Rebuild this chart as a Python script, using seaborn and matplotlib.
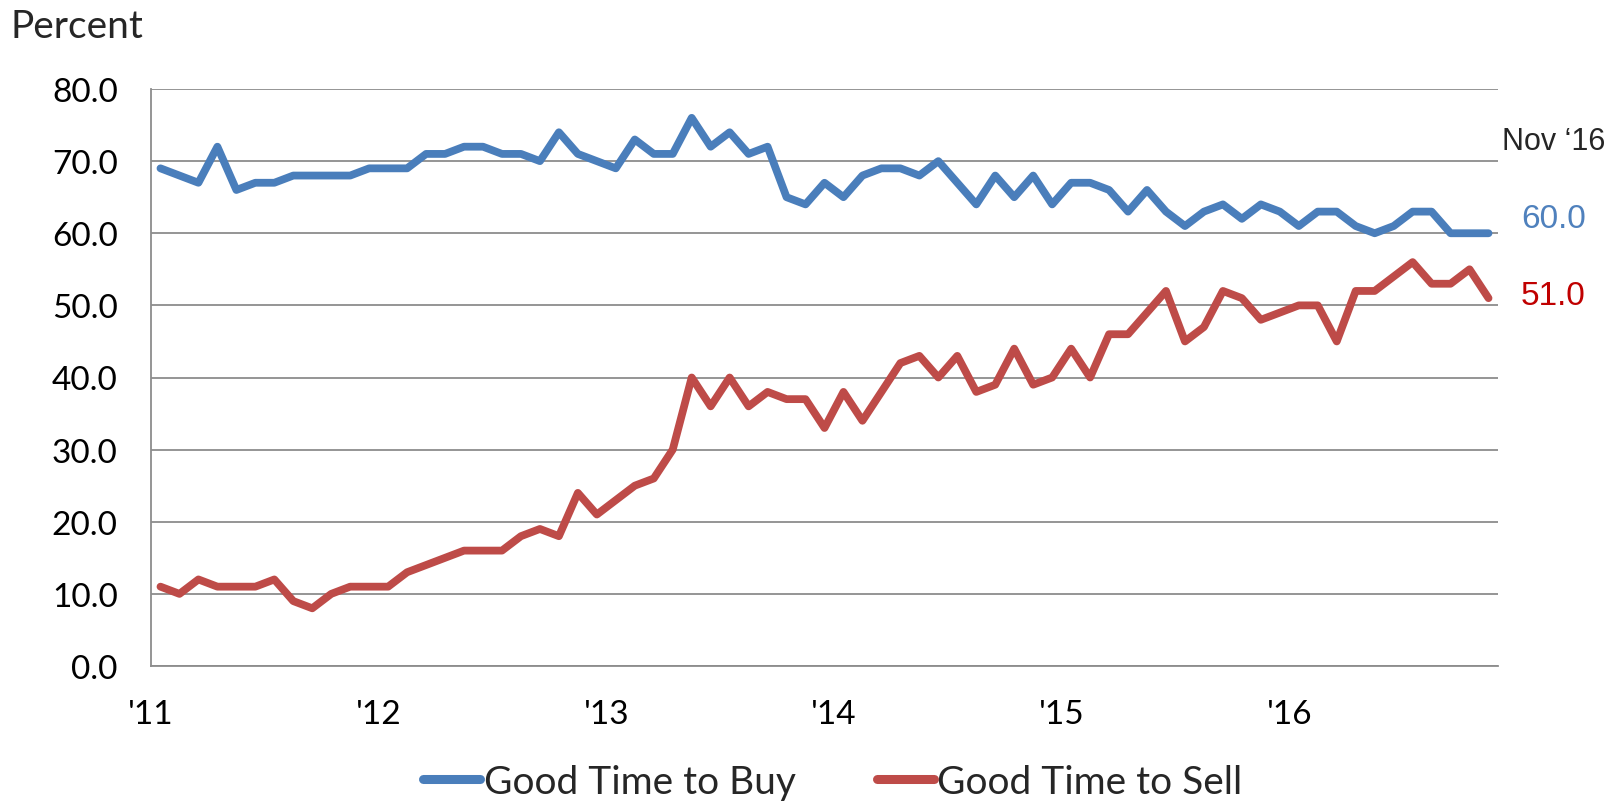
import numpy as np
import pandas as pd
import matplotlib
matplotlib.use("Agg")
import matplotlib.pyplot as plt
from matplotlib.lines import Line2D
from matplotlib.ticker import FormatStrFormatter
import seaborn as sns

# Monthly survey shares, Jan 2011 - Nov 2016 (percent)
buy = [69, 68, 67, 72, 66, 67, 67, 68, 68, 68, 68, 69,
       69, 69, 71, 71, 72, 72, 71, 71, 70, 74, 71, 70,
       69, 73, 71, 71, 76, 72, 74, 71, 72, 65, 64, 67,
       65, 68, 69, 69, 68, 70, 67, 64, 68, 65, 68, 64,
       67, 67, 66, 63, 66, 63, 61, 63, 64, 62, 64, 63,
       61, 63, 63, 61, 60, 61, 63, 63, 60, 60, 60]
sell = [11, 10, 12, 11, 11, 11, 12, 9, 8, 10, 11, 11,
        11, 13, 14, 15, 16, 16, 16, 18, 19, 18, 24, 21,
        23, 25, 26, 30, 40, 36, 40, 36, 38, 37, 37, 33,
        38, 34, 38, 42, 43, 40, 43, 38, 39, 44, 39, 40,
        44, 40, 46, 46, 49, 52, 45, 47, 52, 51, 48, 49,
        50, 50, 45, 52, 52, 54, 56, 53, 53, 55, 51]
series_names = ["Good Time to Buy", "Good Time to Sell"]
year_labels = ["'11", "'12", "'13", "'14", "'15", "'16"]
last_month_label = "Nov \u201816"
y_ticks = [0, 10, 20, 30, 40, 50, 60, 70, 80]

blue = "#4A7EBB"
red = "#BE4B48"
grid_gray = "#8C8C8C"

month_idx = np.arange(len(buy))
df = pd.DataFrame({"month": month_idx,
                   series_names[0]: buy,
                   series_names[1]: sell})
long_df = df.melt(id_vars="month", var_name="series", value_name="pct")

sns.set_style("white")
plt.rcParams["font.family"] = ["Lato", "DejaVu Sans"]

fig = plt.figure(figsize=(16.1, 8.03), dpi=100)
ax = fig.add_axes([151 / 1610, 136 / 803, 1347 / 1610, 577 / 803])

sns.lineplot(data=long_df, x="month", y="pct", hue="series",
             hue_order=series_names, palette=[blue, red],
             linewidth=5.6, legend=False, ax=ax,
             solid_capstyle="round", solid_joinstyle="round")

ax.set_xlim(-0.5, len(buy) - 0.5)
ax.set_ylim(0, 80)
ax.set_yticks(y_ticks)
ax.yaxis.set_major_formatter(FormatStrFormatter("%.1f"))
ax.set_xticks(np.arange(len(year_labels)) * 12 - 0.5)
ax.set_xticklabels(year_labels)
ax.set_xlabel("")
ax.set_ylabel("")

ax.grid(axis="y", color=grid_gray, linewidth=1.3)
ax.grid(axis="x", visible=False)
ax.set_axisbelow(True)
for side in ("top", "right"):
    ax.spines[side].set_visible(False)
for side in ("left", "bottom"):
    ax.spines[side].set_color(grid_gray)
    ax.spines[side].set_linewidth(1.3)

ax.tick_params(axis="both", direction="out", length=9, width=1.3,
               color=grid_gray, labelsize=24, labelcolor="black")
ax.tick_params(axis="y", pad=15)
ax.tick_params(axis="x", pad=15)

fig.text(10 / 1610, 1 - 27 / 803, "Percent", fontsize=28,
         ha="left", va="center")

# Latest readings at the right end
ax.text(70.7, 72.8, last_month_label, fontsize=22, ha="left", va="center",
        family=["Liberation Sans"], clip_on=False)
ax.text(71.7, buy[-1] + 2.1, f"{buy[-1]:.1f}", fontsize=24, color="#4F81BD",
        ha="left", va="center", family=["Liberation Sans"], clip_on=False)
ax.text(71.7, sell[-1] + 0.3, f"{sell[-1]:.1f}", fontsize=24, color="#C00000",
        ha="left", va="center", family=["Liberation Sans"], clip_on=False)

handles = [Line2D([0], [0], color=blue, linewidth=6.5, solid_capstyle="round"),
           Line2D([0], [0], color=red, linewidth=6.5, solid_capstyle="round")]
fig.legend(handles, series_names, loc="center", ncol=2, frameon=False,
           bbox_to_anchor=(833 / 1610, 20 / 803), fontsize=28,
           handlelength=1.45, handletextpad=0.1, columnspacing=2.1)

fig.savefig("out.png", dpi=100)
